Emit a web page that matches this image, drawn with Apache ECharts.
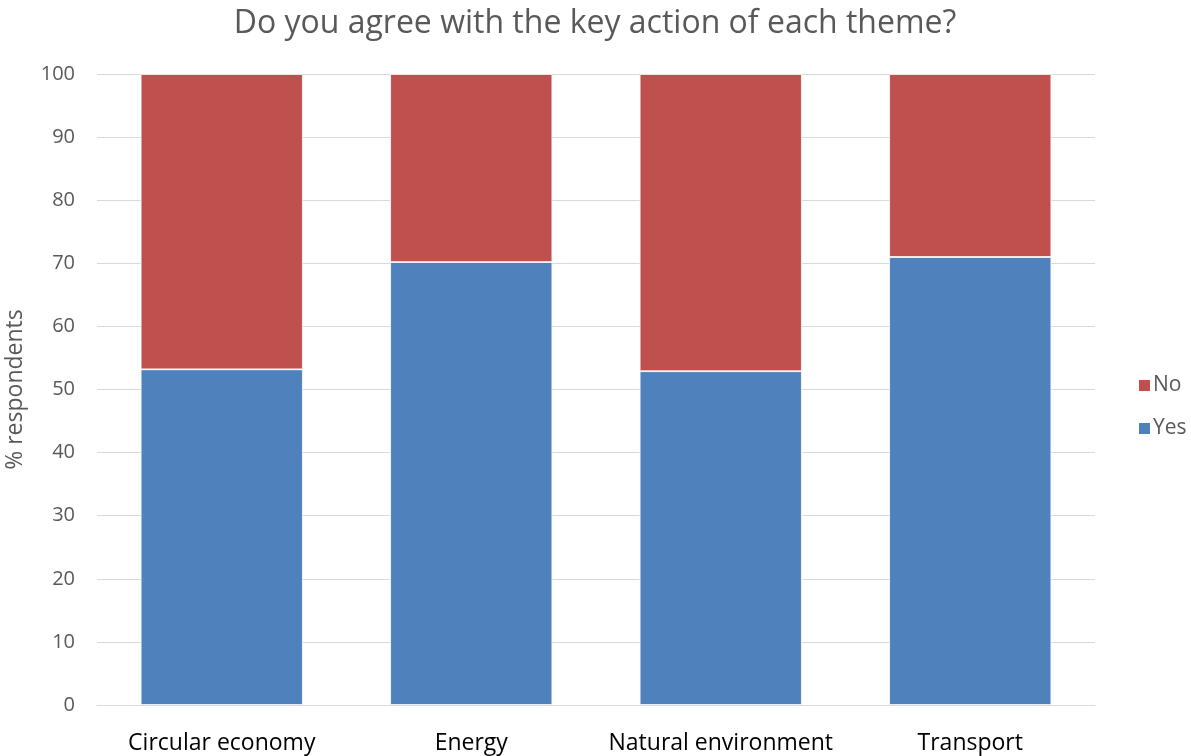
<!DOCTYPE html>
<html><head><meta charset="utf-8">
<script src="https://cdn.jsdelivr.net/npm/echarts@6/dist/echarts.min.js"></script>
<style>html,body{margin:0;padding:0;background:#fff}#c{width:1191px;height:756px}</style>
</head><body><div id="c"></div>
<script>
const categories = ['Circular economy', 'Energy', 'Natural environment', 'Transport'];
const yesValues = [53.2, 70.2, 52.9, 71.0];
const noValues = [46.8, 29.8, 47.1, 29.0];
const yTicks = [0, 10, 20, 30, 40, 50, 60, 70, 80, 90, 100];

const chart = echarts.init(document.getElementById('c'));
const font = '"Open Sans", "Liberation Sans", sans-serif';
chart.setOption({
  animation: false,
  title: {
    text: 'Do you agree with the key action of each theme?',
    left: 590, top: 3, textAlign: 'center',
    textStyle: { fontFamily: font, fontSize: 32, fontWeight: 'normal', color: '#595959' }
  },
  legend: {
    orient: 'vertical', left: 1132, top: 370, itemGap: 22,
    itemWidth: 13, itemHeight: 13, icon: 'rect',
    data: ['No', 'Yes'],
    textStyle: { fontFamily: font, fontSize: 21, color: '#595959', padding: [0, 0, 0, -3] }
  },
  grid: { left: 97, right: 96, top: 74, bottom: 51, containLabel: false, outerBoundsMode: 'none' },
  xAxis: {
    type: 'category', data: categories,
    axisLine: { lineStyle: { color: '#d9d9d9' } },
    axisTick: { show: false },
    axisLabel: { fontFamily: font, fontSize: 23, color: '#000', margin: 27, interval: 0 }
  },
  yAxis: {
    type: 'value', min: yTicks[0], max: yTicks[yTicks.length - 1], interval: 10,
    name: '% respondents', nameLocation: 'middle', nameGap: 70, nameRotate: 90,
    nameTextStyle: { fontFamily: font, fontSize: 23, color: '#595959' },
    axisLine: { show: false }, axisTick: { show: false },
    axisLabel: { fontFamily: font, fontSize: 20, color: '#595959', margin: 22 },
    splitLine: { lineStyle: { color: '#d9d9d9', width: 1 } }
  },
  series: [
    { name: 'Yes', type: 'bar', stack: 's', data: yesValues, barCategoryGap: '35%',
      itemStyle: { color: '#4f81bd', borderColor: '#ffffff', borderWidth: 0.8 } },
    { name: 'No', type: 'bar', stack: 's', data: noValues, barCategoryGap: '35%',
      itemStyle: { color: '#c0504d', borderColor: '#ffffff', borderWidth: 0.8 } }
  ]
});
</script></body></html>
